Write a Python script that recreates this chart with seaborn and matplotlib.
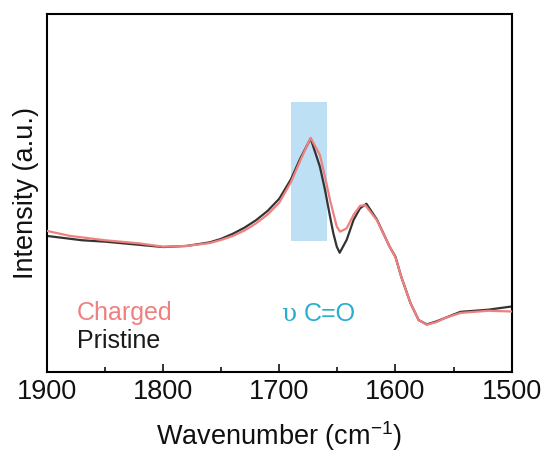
import matplotlib

matplotlib.use("Agg")
import matplotlib.pyplot as plt
import pandas as pd
import seaborn as sns
from matplotlib.ticker import MultipleLocator

# Wavenumber (cm-1) and intensity (a.u., 0-100 axis scale)
pristine_wn = [1900, 1870, 1850, 1820, 1800, 1780, 1760, 1750, 1740, 1730,
               1720, 1710, 1700, 1690, 1682, 1673, 1665, 1660.6, 1656.3, 1653.5,
               1650.5, 1648, 1642, 1636, 1630.5, 1625, 1616, 1605, 1600, 1595,
               1587, 1580, 1573, 1565, 1558, 1544, 1520, 1500]
pristine_int = [38.0, 36.8, 36.4, 35.5, 34.9, 35.2, 36.2, 37.2, 38.6, 40.3,
                42.4, 45.0, 48.4, 53.8, 59.6, 65.2, 57.3, 50.8, 43.4, 38.8,
                35.0, 33.3, 36.9, 42.5, 45.7, 47.0, 42.6, 35.0, 32.2, 26.6,
                19.2, 14.5, 13.3, 14.1, 15.0, 16.8, 17.4, 18.3]

charged_wn = [1900, 1880, 1870, 1850, 1820, 1800, 1780, 1760, 1750, 1740,
              1730, 1720, 1710, 1700, 1690, 1682, 1673, 1665, 1660.6, 1656.3,
              1650.5, 1647.7, 1642, 1636, 1630.5, 1626, 1616, 1605, 1600, 1595,
              1587, 1580, 1573, 1565, 1558, 1544, 1520, 1500]
charged_int = [39.4, 38.0, 37.6, 36.8, 35.9, 35.0, 35.2, 36.0, 36.9, 38.0,
               39.5, 41.5, 44.0, 47.3, 53.0, 59.0, 65.4, 60.6, 54.5, 48.0,
               40.6, 39.2, 40.1, 43.9, 46.4, 46.6, 42.4, 35.0, 32.0, 26.6,
               19.2, 14.5, 13.2, 13.9, 15.0, 16.5, 17.1, 16.9]

band_wn = (1690, 1659)
band_int = (36.6, 75.4)

sns.set_theme(style="white")
plt.rcParams["font.family"] = ["Liberation Sans", "DejaVu Sans"]
plt.rcParams["mathtext.default"] = "regular"
plt.rcParams["text.color"] = "#111111"
plt.rcParams["axes.labelcolor"] = "#111111"
plt.rcParams["xtick.color"] = "#111111"

fig = plt.figure(figsize=(5.44, 4.55), dpi=100)
ax = fig.add_axes([0.0864, 0.1824, 0.854, 0.787])

ax.fill_between(band_wn, band_int[0], band_int[1], color="#bde0f5", lw=0, zorder=1)

df_p = pd.DataFrame({"wn": pristine_wn, "y": pristine_int})
df_c = pd.DataFrame({"wn": charged_wn, "y": charged_int})
sns.lineplot(data=df_p, x="wn", y="y", ax=ax, color="#333333", lw=1.6, zorder=2)
sns.lineplot(data=df_c, x="wn", y="y", ax=ax, color="#f08080", lw=1.6, zorder=3)

ax.set_xlim(1900, 1500)
ax.set_ylim(0, 100)
ax.xaxis.set_major_locator(MultipleLocator(100))
ax.xaxis.set_minor_locator(MultipleLocator(50))
ax.tick_params(axis="x", which="major", direction="in", length=6, width=1.2,
               labelsize=19.5, pad=5, bottom=True)
ax.tick_params(axis="x", which="minor", direction="in", length=3.5, width=1.2, bottom=True)
ax.set_yticks([])
for s in ax.spines.values():
    s.set_color("black")
    s.set_linewidth(1.5)

ax.set_xlabel("Wavenumber (cm$^{-1}$)", fontsize=19.5, labelpad=10)
ax.set_ylabel("Intensity (a.u.)", fontsize=19.5, labelpad=6)

ax.text(0.064, 0.145, "Charged", transform=ax.transAxes, color="#f08080",
        fontsize=18, va="baseline", ha="left")
ax.text(0.064, 0.066, "Pristine", transform=ax.transAxes, color="#1a1a1a",
        fontsize=18, va="baseline", ha="left")
ax.text(0.505, 0.142, "υ", transform=ax.transAxes, color="#2aaed0",
        fontsize=18, va="baseline", ha="left", family=["DejaVu Serif"])
ax.text(0.552, 0.142, "C=O", transform=ax.transAxes, color="#2aaed0",
        fontsize=18, va="baseline", ha="left")

fig.savefig("out.png", dpi=100)
